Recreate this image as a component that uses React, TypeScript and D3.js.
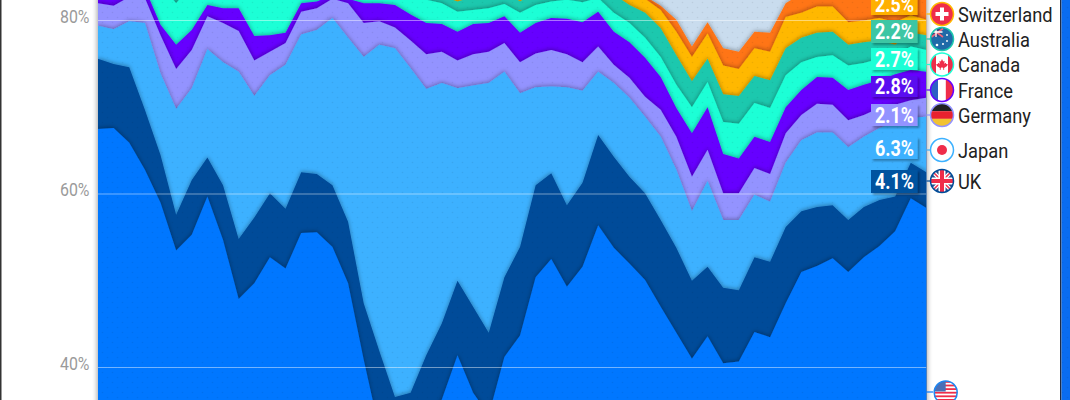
import React from "react";
import * as d3 from "d3";

// Upper edge of each stacked band, as a cumulative share of the total in percent, one value per period.
const usTop = [67.5,67.6,65.9,62.8,59.0,53.5,55.3,59.7,54.7,47.9,49.7,52.7,51.4,55.5,55.6,53.9,49.7,40.9,32.8,31.6,31.6,33.4,36.3,41.4,37.1,34.5,41.2,43.7,50.4,52.5,49.3,51.6,56.4,53.8,52.0,50.1,47.0,44.0,41.0,43.6,40.5,40.7,44.1,43.5,47.4,51.0,51.7,52.6,51.0,52.7,54.0,55.7,59.5,58.4];
const ukTop = [75.6,75.0,74.6,69.7,64.5,57.6,61.6,64.2,61.0,54.8,57.3,60.1,58.3,62.5,62.3,61.0,56.8,47.4,41.9,36.6,37.1,41.4,45.1,50.0,47.0,44.0,50.4,53.9,61.0,62.4,58.7,61.3,66.8,64.3,62.0,60.1,57.0,53.8,50.0,51.6,49.2,48.9,52.7,52.2,56.2,58.0,58.5,58.7,57.0,58.5,59.3,59.7,63.6,62.5];
const japanTop = [79.4,79.0,79.9,79.7,73.9,69.8,72.2,76.7,75.2,74.1,71.3,73.7,74.9,78.4,78.9,80.3,78.0,75.8,77.2,76.8,74.5,72.1,72.8,72.2,72.5,72.8,74.1,71.6,72.3,72.4,72.3,71.9,74.1,72.8,71.1,68.9,66.6,62.8,58.0,61.5,57.0,57.0,59.9,59.1,63.6,66.2,67.1,67.1,65.4,66.6,67.6,68.3,68.8,68.9];
const germanyTop = [82.0,81.7,82.7,82.6,78.3,74.4,76.6,80.5,79.7,78.8,75.4,76.4,77.4,81.0,81.4,82.5,82.0,79.7,79.9,79.2,77.7,76.1,76.4,75.4,76.1,76.4,77.4,75.2,76.2,76.6,76.1,75.2,77.0,74.9,73.4,71.2,69.7,66.6,62.0,65.1,60.1,60.1,63.0,62.3,67.0,69.1,70.4,70.3,68.5,69.1,69.9,70.3,70.8,71.1];
const franceTop = [83.1,83.0,84.4,83.7,79.5,77.2,78.9,81.8,81.4,81.4,78.2,78.3,78.6,82.0,82.2,82.9,82.5,82.0,82.0,81.8,80.7,79.7,79.6,78.7,79.6,79.7,80.5,78.6,79.7,80.3,80.2,79.8,81.0,78.7,77.5,75.7,73.5,69.9,67.0,70.0,64.6,64.1,66.6,66.0,70.0,72.0,73.5,73.4,72.0,72.6,73.1,73.8,74.3,74.1];
const canadaTop = [85.8,85.8,87.0,85.8,84.1,82.0,84.1,85.8,84.7,83.7,83.3,83.5,83.7,84.7,84.7,85.6,85.2,84.9,84.7,83.5,82.9,82.4,82.0,81.0,81.2,81.4,81.9,80.9,81.8,82.2,82.4,82.1,82.6,80.9,79.7,78.0,75.8,72.6,70.0,72.9,68.3,68.1,70.5,69.9,73.7,75.2,75.8,76.0,74.8,75.1,75.6,76.0,77.0,76.6];
const australiaTop = [88.3,88.3,89.5,88.3,86.6,84.5,86.6,88.3,87.2,86.2,85.8,86.0,86.2,87.2,87.2,88.1,87.7,87.4,87.2,86.0,85.4,84.9,82.8,82.2,82.7,83.0,83.3,82.2,83.3,83.7,83.9,83.5,84.1,83.0,81.8,80.9,79.1,76.0,73.0,75.6,71.5,71.3,73.6,73.1,76.8,78.0,78.6,78.7,77.2,77.5,77.7,77.2,78.6,78.3];
const switzerlandTop = [90.5,90.5,91.7,90.5,88.8,86.7,88.8,90.5,89.4,88.4,88.0,88.2,88.4,89.4,89.4,90.3,89.9,89.6,89.4,88.2,87.6,87.1,85.0,84.4,84.9,85.2,85.5,84.4,85.5,85.9,86.1,85.7,86.3,85.2,84.4,82.5,81.2,78.7,75.8,78.5,74.8,74.4,76.8,76.4,80.4,80.9,81.6,81.6,79.8,80.0,80.3,79.8,80.6,80.1];
const orangeTop = [91.5,91.5,92.7,91.5,89.8,87.7,89.8,91.5,90.4,89.4,89.0,89.2,89.4,90.4,90.4,91.3,90.9,90.6,90.4,89.2,88.6,88.1,86.0,85.4,85.9,86.2,86.5,85.4,86.5,86.9,87.1,86.7,87.3,86.2,84.7,82.8,81.7,80.1,77.0,79.8,76.8,76.4,78.7,78.6,82.0,83.1,83.5,83.7,82.8,83.1,83.3,83.3,84.1,83.5];

const yTicks = [80, 60, 40];
const countries = ["Switzerland", "Australia", "Canada", "France", "Germany", "Japan", "UK"];
const shares = ["2.5%", "2.2%", "2.7%", "2.8%", "2.1%", "6.3%", "4.1%"];

const W = 1070, H = 400;
const left = 98, right = 926.4;
const x = d3.scaleLinear().domain([0, usTop.length - 1]).range([left, right]);
const y = d3.scaleLinear().domain([80, 40]).range([20.5, 367.5]);
const floor = y(0);

const bands: [number[], string][] = [
  [orangeTop, "#ff7518"],
  [switzerlandTop, "#ffb800"],
  [australiaTop, "#1cc8ae"],
  [canadaTop, "#1effd6"],
  [franceTop, "#6600ff"],
  [germanyTop, "#9393ff"],
  [japanTop, "#3cb1ff"],
  [ukTop, "#004c99"],
  [usTop, "#0077ff"],
];

const area = (vals: number[]) =>
  d3.area<number>().x((_, i) => x(i)).y0(floor).y1((v) => y(v)).curve(d3.curveLinear)(vals) as string;

const labelStyles = [
  { top: -7, h: 22, fill: "#ffb000", ring: "#ffb800" },
  { top: 20, h: 23, fill: "#3cc6a4", ring: "#1cc8ae" },
  { top: 48, h: 22, fill: "#1effd6", ring: "#1effd6" },
  { top: 76, h: 21, fill: "#5a0cf0", ring: "#6600ff" },
  { top: 104, h: 22, fill: "#9393ff", ring: "#9393ff" },
  { top: 137, h: 22, fill: "#3cb1ff", ring: "#3cb1ff" },
  { top: 170, h: 23, fill: "#03529f", ring: "#004c99" },
];
const flagY = [14, 39, 64.5, 90, 115, 150, 181];
const flagX = 942;
const R = 11.5;

function Flag({ name, cx, cy, ring }: { name: string; cx: number; cy: number; ring: string }) {
  const id = "flag-" + name;
  const X = cx - R, Y = cy - R, S = R * 2;
  let art: React.ReactNode = null;
  if (name === "Switzerland") {
    art = (
      <>
        <rect x={X} y={Y} width={S} height={S} fill="#ef2d4a" />
        <rect x={cx - 6.5} y={cy - 2} width={13} height={4} fill="#fff" />
        <rect x={cx - 2} y={cy - 6.5} width={4} height={13} fill="#fff" />
      </>
    );
  } else if (name === "Australia") {
    art = (
      <>
        <rect x={X} y={Y} width={S} height={S} fill="#1f6aa8" />
        <path d={`M${X} ${Y}h11v9h-11z`} fill="#2b4d86" />
        <path d={`M${X + 1} ${Y + 1}L${cx + 1} ${cy - 2}M${cx + 1} ${Y + 1}L${X + 1} ${cy - 2}`} stroke="#f2657a" strokeWidth={1.6} />
        <path d={`M${cx - 6} ${Y}v9.5M${X} ${cy - 7}h12`} stroke="#fff" strokeWidth={1.3} />
        <circle cx={cx + 5} cy={cy + 2} r={0.9} fill="#fff" />
        <circle cx={cx + 5} cy={cy - 4} r={0.9} fill="#fff" />
        <circle cx={cx + 1} cy={cy + 5} r={1} fill="#fff" />
        <circle cx={cx - 5} cy={cy + 6} r={1.3} fill="#fff" />
      </>
    );
  } else if (name === "Canada") {
    art = (
      <>
        <rect x={X} y={Y} width={S} height={S} fill="#fff" />
        <rect x={X} y={Y} width={5.5} height={S} fill="#ef2d4a" />
        <rect x={cx + 6} y={Y} width={5.5} height={S} fill="#ef2d4a" />
        <path d={`M${cx} ${cy - 5.5}l1.2 2.4 1.4-.6-.4 3 1.6-1 .5 1.3 1.5-.2-.7 2-3 2.2.1 1.7h-1l.1-1.7-1.3-.8-1.3.8.1 1.7h-1l.1-1.7-3-2.2-.7-2 1.5.2.5-1.3 1.6 1-.4-3 1.4.6z`} fill="#ef2d4a" />
      </>
    );
  } else if (name === "France") {
    art = (
      <>
        <rect x={X} y={Y} width={S} height={S} fill="#fff" />
        <rect x={X} y={Y} width={7.5} height={S} fill="#2b5fc4" />
        <rect x={cx + 3.8} y={Y} width={7.7} height={S} fill="#ef2d4a" />
      </>
    );
  } else if (name === "Germany") {
    art = (
      <>
        <rect x={X} y={Y} width={S} height={7.7} fill="#222" />
        <rect x={X} y={cy - 3.8} width={S} height={7.7} fill="#e8222f" />
        <rect x={X} y={cy + 3.8} width={S} height={7.7} fill="#f1c232" />
      </>
    );
  } else if (name === "Japan") {
    art = (
      <>
        <rect x={X} y={Y} width={S} height={S} fill="#fff" />
        <circle cx={cx} cy={cy} r={5} fill="#ef2d4a" />
      </>
    );
  } else if (name === "UK") {
    art = (
      <>
        <rect x={X} y={Y} width={S} height={S} fill="#2b4d86" />
        <path d={`M${X} ${Y}L${X + S} ${Y + S}M${X + S} ${Y}L${X} ${Y + S}`} stroke="#fff" strokeWidth={4} />
        <path d={`M${X} ${Y}L${X + S} ${Y + S}M${X + S} ${Y}L${X} ${Y + S}`} stroke="#ef2d4a" strokeWidth={1.5} />
        <rect x={cx - 3.5} y={Y} width={7} height={S} fill="#fff" />
        <rect x={X} y={cy - 3.5} width={S} height={7} fill="#fff" />
        <rect x={cx - 2} y={Y} width={4} height={S} fill="#ef2d4a" />
        <rect x={X} y={cy - 2} width={S} height={4} fill="#ef2d4a" />
      </>
    );
  } else {
    const stripes = d3.range(0, 7);
    art = (
      <>
        <rect x={X} y={Y} width={S} height={S} fill="#fff" />
        {stripes.map((k) => (
          <rect key={k} x={X} y={Y + k * 3.6} width={S} height={1.8} fill="#ef2d4a" />
        ))}
        <rect x={X} y={Y} width={11.5} height={10.5} fill="#4a6fb5" />
      </>
    );
  }
  return (
    <g>
      <clipPath id={id}>
        <circle cx={cx} cy={cy} r={R} />
      </clipPath>
      <g clipPath={`url(#${id})`}>{art}</g>
      <circle cx={cx} cy={cy} r={R} fill="none" stroke={ring} strokeWidth={1.5} />
    </g>
  );
}

export default function App() {
  return (
    <svg
      width={W}
      height={H}
      viewBox={`0 0 ${W} ${H}`}
      style={{ position: "fixed", left: 0, top: 0, display: "block", background: "#fff" }}
    >
      <defs>
        <filter id="edge" x={0} y={-200} width={W} height={1200} filterUnits="userSpaceOnUse">
          <feDropShadow dx={0} dy={-1} stdDeviation={2} floodColor="#000" floodOpacity={0.32} />
        </filter>
        <filter id="side" x={60} y={-20} width={900} height={440} filterUnits="userSpaceOnUse">
          <feGaussianBlur stdDeviation={2.5} />
        </filter>
        <filter id="lab" x={850} y={-30} width={90} height={240} filterUnits="userSpaceOnUse">
          <feDropShadow dx={2} dy={2} stdDeviation={0.8} floodColor="#000" floodOpacity={0.3} />
        </filter>
        <pattern id="dots" width={10} height={10} patternUnits="userSpaceOnUse">
          <circle cx={2.5} cy={2.5} r={0.8} fill="#000" fillOpacity={0.07} />
          <circle cx={7.5} cy={7.5} r={0.8} fill="#000" fillOpacity={0.07} />
        </pattern>
        <clipPath id="plot">
          <rect x={left} y={0} width={right - left} height={H} />
        </clipPath>
      </defs>

      <rect x={left - 1} y={-10} width={right - left + 2} height={H + 20} fill="#000" opacity={0.35} filter="url(#side)" />

      <g clipPath="url(#plot)">
        <rect x={left} y={0} width={right - left} height={H} fill="#c9dcee" />
        {bands.map(([vals, color], k) => (
          <path key={k} d={area(vals)} fill={color} filter="url(#edge)" />
        ))}
        <rect x={left} y={0} width={right - left} height={H} fill="url(#dots)" />
        {yTicks.map((t) => (
          <line key={t} x1={left} x2={right} y1={y(t)} y2={y(t)} stroke="#fff" strokeOpacity={0.45} strokeWidth={1} />
        ))}
      </g>

      {yTicks.map((t) => (
        <text
          key={t}
          x={89.5}
          y={y(t) + 2.2}
          textAnchor="end"
          fontFamily="Roboto"
          fontSize={18}
          fill="#9a9a9a"
          textLength={29.5}
          lengthAdjust="spacingAndGlyphs"
        >
          {`${t}%`}
        </text>
      ))}

      {countries.map((c, i) => {
        const s = labelStyles[i];
        return (
          <g key={c}>
            <line x1={right} x2={flagX - R} y1={flagY[i]} y2={flagY[i]} stroke={s.ring} strokeWidth={1.2} />
            <rect x={871} y={s.top} width={46.5} height={s.h} fill={s.fill} filter="url(#lab)" />
            <text
              x={894.5}
              y={s.top + s.h / 2 + 7.5}
              textAnchor="middle"
              fontFamily="Roboto"
              fontWeight={700}
              fontSize={21.5}
              fill="#fff"
              textLength={39}
              lengthAdjust="spacingAndGlyphs"
            >
              {shares[i]}
            </text>
            <Flag name={c} cx={flagX} cy={flagY[i]} ring={s.ring} />
            <g transform={`translate(958 ${flagY[i] + 7.5}) scale(0.87 1)`}>
              <text x={0} y={0} fontFamily="Roboto" fontSize={21} fill="#222">
                {c}
              </text>
            </g>
          </g>
        );
      })}

      <line x1={right} x2={933} y1={392} y2={392} stroke="#0077ff" strokeWidth={1.2} />
      <Flag name="USA" cx={945.7} cy={392.5} ring="#1f86f0" />

      <rect x={0} y={0} width={1.5} height={H} fill="#333" />
      <rect x={1060} y={0} width={1.5} height={H} fill="#1d2a44" />
      <rect x={1061.5} y={0} width={8.5} height={H} fill="#0a6cf0" />
      <rect x={1061.5} y={0} width={8.5} height={H} fill="url(#dots)" />
    </svg>
  );
}
